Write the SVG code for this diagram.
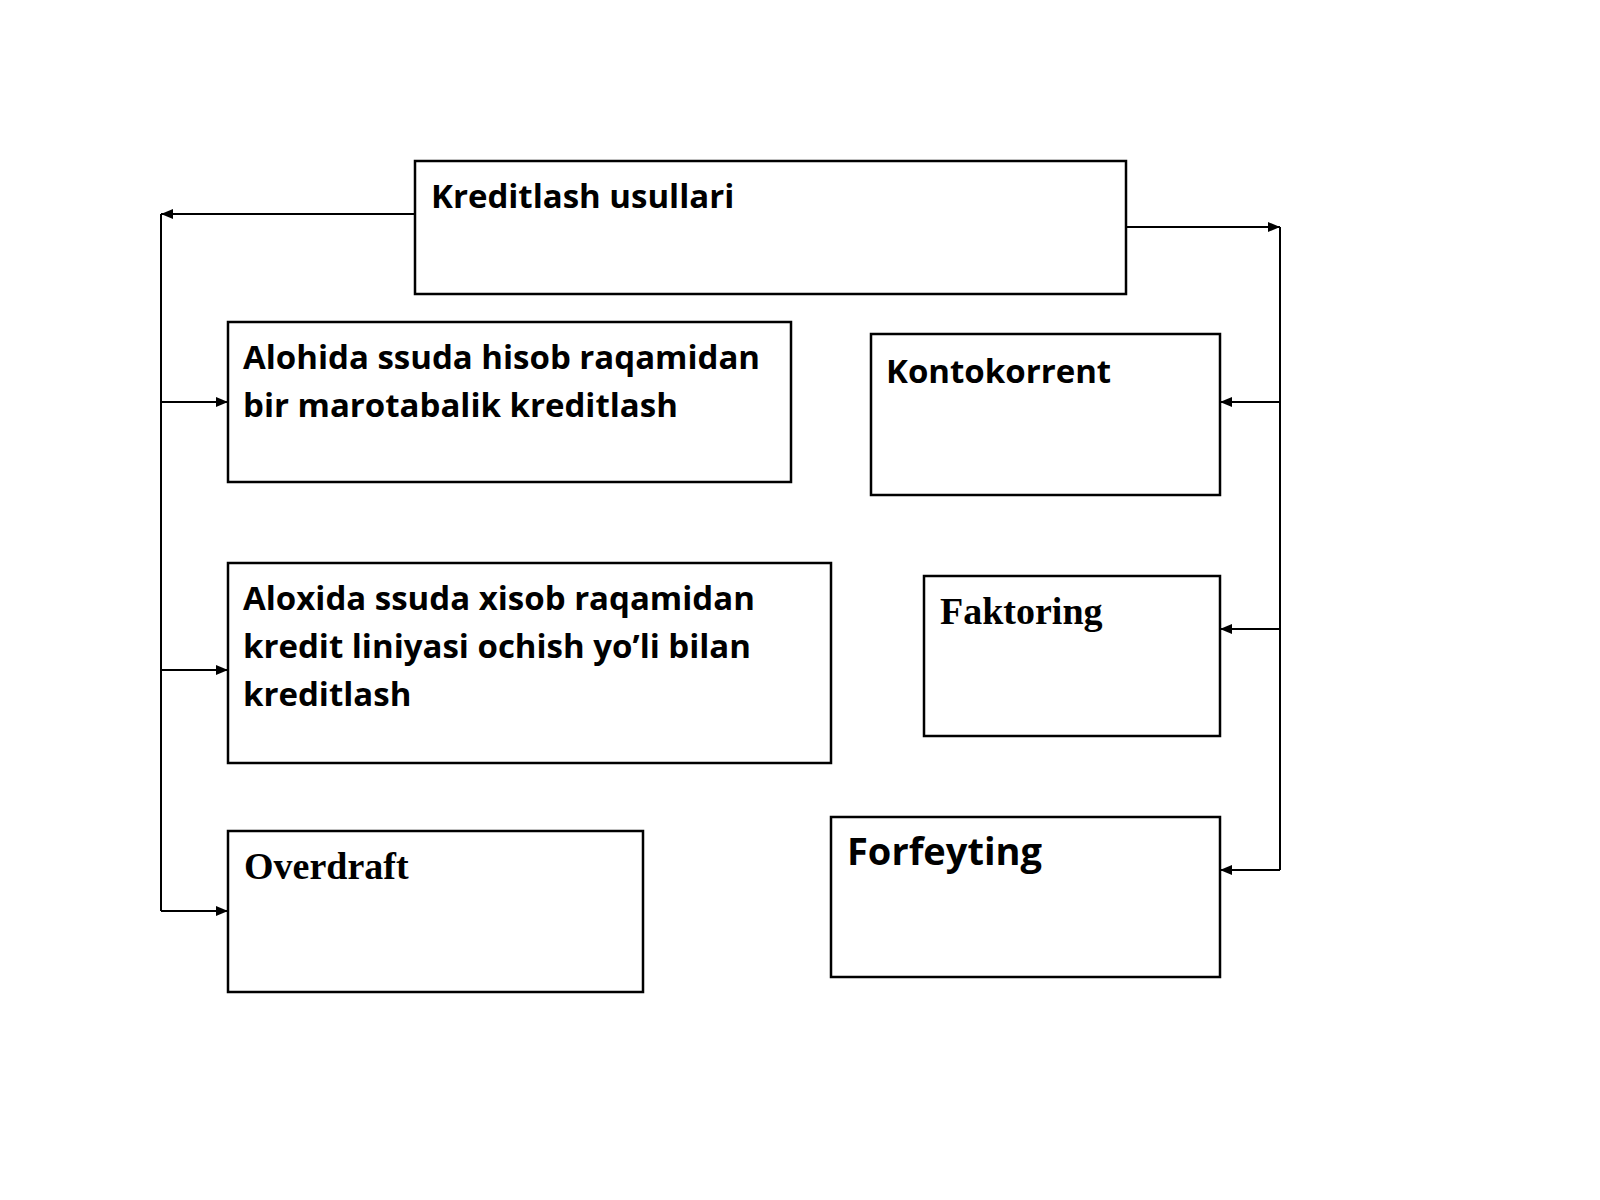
<svg xmlns="http://www.w3.org/2000/svg" width="1600" height="1200" viewBox="0 0 1600 1200">
<defs><marker id="a" markerWidth="12" markerHeight="10" refX="12" refY="5" orient="auto" markerUnits="userSpaceOnUse"><path d="M0,0 L12,5 L0,10 z" fill="#000"/></marker></defs>
<style>
.b{fill:#fff;stroke:#000;stroke-width:2.5}
.s{font-family:"Open Sans","Noto Sans",sans-serif;font-weight:bold;font-size:33px;fill:#000}
.r{font-family:"Liberation Serif",serif;font-weight:bold;font-size:38px;fill:#000}
.c{fill:none;stroke:#000;stroke-width:2}
</style>
<rect width="1600" height="1200" fill="#fff"/>
<g id="top"><rect class="b" x="415" y="161" width="711" height="133"/><text class="s" x="431" y="208">Kreditlash usullari</text></g>
<g id="n1"><rect class="b" x="228" y="322" width="563" height="160"/><text class="s" x="243" y="369">Alohida ssuda hisob raqamidan</text><text class="s" x="243" y="417">bir marotabalik kreditlash</text></g>
<g id="n2"><rect class="b" x="228" y="563" width="603" height="200"/><text class="s" x="243" y="610">Aloxida ssuda xisob raqamidan</text><text class="s" x="243" y="658">kredit liniyasi ochish yo’li bilan</text><text class="s" x="243" y="706">kreditlash</text></g>
<g id="n3"><rect class="b" x="228" y="831" width="415" height="161"/><text class="r" x="244" y="879">Overdraft</text></g>
<g id="n4"><rect class="b" x="871" y="334" width="349" height="161"/><text class="s" x="886" y="383">Kontokorrent</text></g>
<g id="n5"><rect class="b" x="924" y="576" width="296" height="160"/><text class="r" x="940" y="624">Faktoring</text></g>
<g id="n6"><rect class="b" x="831" y="817" width="389" height="160"/><text class="s" x="847" y="865" style="font-size:38px">Forfeyting</text></g>
<g id="connectors">
<path class="c" d="M415,214 H161" marker-end="url(#a)"/>
<path class="c" d="M161,214 V911"/>
<path class="c" d="M161,402 H228" marker-end="url(#a)"/>
<path class="c" d="M161,670 H228" marker-end="url(#a)"/>
<path class="c" d="M161,911 H228" marker-end="url(#a)"/>
<path class="c" d="M1126,227 H1280" marker-end="url(#a)"/>
<path class="c" d="M1280,227 V870"/>
<path class="c" d="M1280,402 H1220" marker-end="url(#a)"/>
<path class="c" d="M1280,629 H1220" marker-end="url(#a)"/>
<path class="c" d="M1280,870 H1220" marker-end="url(#a)"/>
</g>
</svg>
